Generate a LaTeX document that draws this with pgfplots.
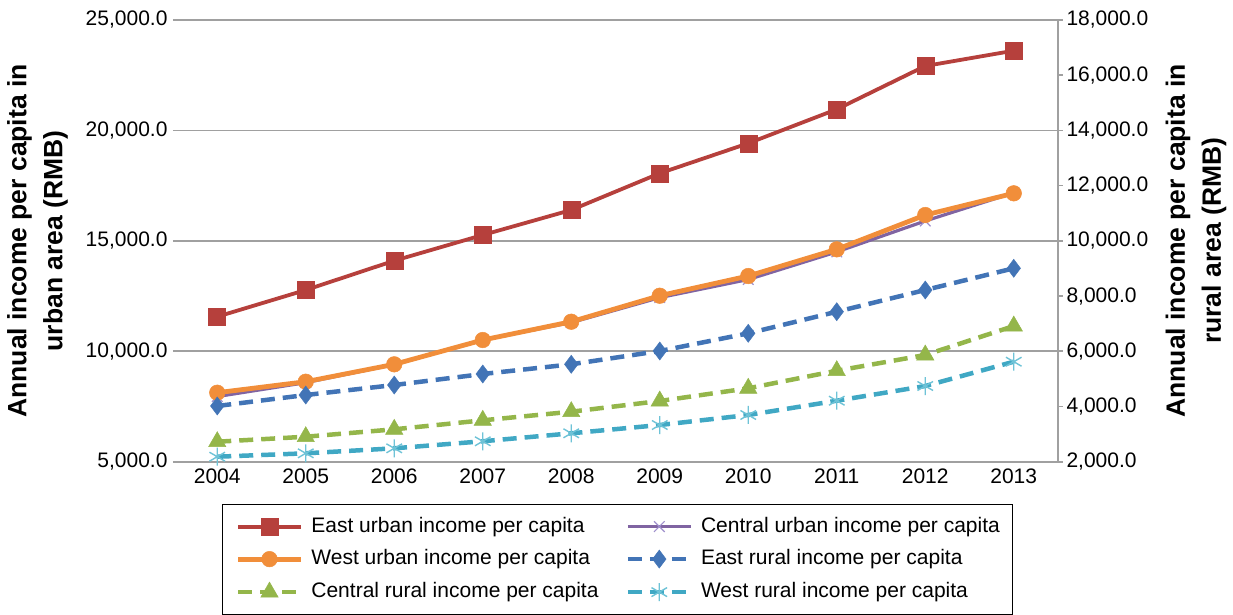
\documentclass[border=0pt]{standalone}
\usepackage{fontspec}
\setmainfont{Liberation Sans}
\usepackage{pgfplots}
\pgfplotsset{compat=1.18}

\definecolor{eastU}{RGB}{182,64,60}
\definecolor{centU}{RGB}{128,100,162}
\definecolor{centUm}{RGB}{160,145,205}
\definecolor{westU}{RGB}{241,142,58}
\definecolor{eastR}{RGB}{66,116,182}
\definecolor{centR}{RGB}{148,182,74}
\definecolor{westR}{RGB}{64,168,196}
\definecolor{westRm}{RGB}{110,195,215}
\definecolor{gridc}{RGB}{160,160,160}

\newcommand{\tickfont}{\fontsize{21}{25}\selectfont}
\newcommand{\labfont}{\bfseries\fontsize{26.5}{36}\selectfont}

\pgfplotsset{
  incaxis/.style={
    scale only axis, width=885pt, height=441.7pt,
    at={(0,0)}, anchor=south west,
    xmin=2003.5, xmax=2013.5,
    xtick={2004,2005,...,2013},
    tick label style={font=\tickfont},
    scaled y ticks=false,
    yticklabel style={/pgf/number format/fixed, /pgf/number format/fixed zerofill,
      /pgf/number format/precision=1, /pgf/number format/1000 sep={,},
      /pgf/number format/assume math mode=true},
    xticklabel style={/pgf/number format/1000 sep={},
      /pgf/number format/assume math mode=true},
  },
  eastUrban/.style={color=eastU, line width=3.8pt,
    mark=square*, mark size=8.5pt, mark options={solid, line width=0.5pt, fill=eastU}},
  centUrban/.style={color=centU, line width=3.2pt,
    mark=x, mark size=7.5pt, mark options={solid, draw=centUm, line width=1.2pt}},
  westUrban/.style={color=westU, line width=4.8pt,
    mark=*, mark size=7.8pt, mark options={solid, line width=0.5pt, fill=westU}},
  eastRural/.style={color=eastR, line width=4.5pt, dash pattern=on 14pt off 8pt,
    mark=diamond*, mark size=9pt, mark options={solid, line width=0.5pt, fill=eastR}},
  centRural/.style={color=centR, line width=4.5pt, dash pattern=on 14pt off 8pt,
    mark=triangle*, mark size=10pt, mark options={solid, line width=0.5pt, fill=centR}},
  westRural/.style={color=westR, line width=4.5pt, dash pattern=on 14pt off 8pt,
    mark=asterisk, mark size=9pt, mark options={solid, draw=westRm, line width=1.4pt}},
}

\begin{document}
\begin{tikzpicture}
\path[use as bounding box] (-173pt,-152.3pt) rectangle (1060pt,461.7pt);

% urban incomes, left axis
\begin{axis}[incaxis,
  ymin=5000, ymax=25000, ytick={5000,10000,...,25000},
  axis line style={draw=none}, major tick length=0pt,
  ymajorgrids, major grid style={draw=gridc, line width=1.6pt},
  yticklabel style={xshift=-2pt},
  xticklabel style={yshift=-4pt},
  every axis y label/.style={at={(axis description cs:-0.153,0.5)}, rotate=90,
    anchor=center, align=center, font=\labfont},
  ylabel={Annual income per capita in\\urban area (RMB)},
]
\addplot[eastUrban] coordinates {
  (2004,11566) (2005,12774) (2006,14101) (2007,15265) (2008,16397)
  (2009,18059) (2010,19417) (2011,20957) (2012,22917) (2013,23610)};
\addplot[centUrban] coordinates {
  (2004,7950) (2005,8580) (2006,9400) (2007,10520) (2008,11300)
  (2009,12430) (2010,13250) (2011,14500) (2012,15900) (2013,17180)};
\addplot[westUrban] coordinates {
  (2004,8124) (2005,8622) (2006,9410) (2007,10510) (2008,11339)
  (2009,12516) (2010,13408) (2011,14617) (2012,16170) (2013,17153)};
\end{axis}

% rural incomes, right axis
\begin{axis}[incaxis,
  ymin=2000, ymax=18000, ytick={2000,4000,...,18000},
  axis x line=none, axis y line*=right,
  axis line style={-, draw=gridc, line width=1.6pt},
  tick style={draw=gridc, line width=1.6pt},
  tick align=outside, major tick length=5pt,
  every axis y label/.style={at={(axis description cs:1.156,0.5)}, rotate=90,
    anchor=center, align=center, font=\labfont},
  ylabel={Annual income per capita in\\rural area (RMB)},
  legend columns=2,
  legend image code/.code={
    \draw[mark repeat=2, mark phase=2, #1] plot coordinates {(0pt,0pt) (31.5pt,0pt) (63pt,0pt)};},
  legend style={
    at={(0.05537,-0.09577)}, anchor=north west,
    draw=black, line width=1.2pt,
    font=\tickfont,
    inner xsep=13pt, inner ysep=12.5pt,
    row sep=13.5pt,
    nodes={inner sep=0pt, text height=15pt, text depth=4pt},
    /tikz/every odd column/.append style={column sep=8pt},
    /tikz/every even column/.append style={column sep=27pt},
    cells={anchor=west},
  },
]
\addlegendimage{eastUrban}
\addlegendentry{East urban income per capita}
\addlegendimage{centUrban}
\addlegendentry{Central urban income per capita}
\addlegendimage{westUrban}
\addlegendentry{West urban income per capita}
\addplot[eastRural] coordinates {
  (2004,4018) (2005,4416) (2006,4778) (2007,5177) (2008,5528)
  (2009,6010) (2010,6651) (2011,7433) (2012,8220) (2013,9006)};
\addlegendentry{East rural income per capita}
\addplot[centRural] coordinates {
  (2004,2724) (2005,2905) (2006,3173) (2007,3499) (2008,3811)
  (2009,4199) (2010,4659) (2011,5296) (2012,5865) (2013,6915)};
\addlegendentry{Central rural income per capita}
\addplot[westRural] coordinates {
  (2004,2181) (2005,2304) (2006,2485) (2007,2740) (2008,3029)
  (2009,3329) (2010,3692) (2011,4209) (2012,4742) (2013,5622)};
\addlegendentry{West rural income per capita}
\end{axis}
\end{tikzpicture}
\end{document}
